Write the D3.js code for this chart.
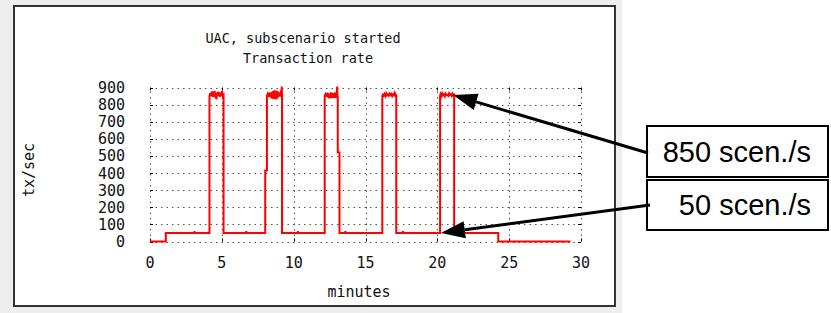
<!DOCTYPE html>
<html>
<head>
    <meta charset='utf-8'>
    <title>Transaction rate</title>
    <script src='https://cdn.jsdelivr.net/npm/d3@7/dist/d3.min.js'></script>
    <style>
        body { margin: 0; background: #fff; }
        .mono { font-family: 'DejaVu Sans Mono', monospace; }
        .note { font-family: 'Liberation Sans', Arial, sans-serif; }
    </style>
</head>
<body>
    <svg width='831' height='313'></svg>
    <script>
        // chart data (minutes, tx/sec)
        const minutes = [
            0, 1.1, 1.1, 3.08, 3.1, 3.12, 4.14, 4.14,
            4.18, 4.22, 4.26, 4.30, 4.34, 4.38, 4.42, 4.46, 4.50, 4.54, 4.58, 4.62, 4.66, 4.70,
            4.74, 4.78, 4.82, 4.86, 4.90, 4.94, 4.98, 5.02, 5.06, 5.12, 5.12,
            6.68, 6.70, 6.72, 8.02, 8.02, 8.14, 8.14,
            8.18, 8.22, 8.26, 8.30, 8.34, 8.38, 8.42, 8.46, 8.50, 8.54, 8.58, 8.62, 8.66, 8.70,
            8.74, 8.78, 8.82, 8.86, 8.90, 8.94, 8.98, 9.02, 9.06, 9.10, 9.14, 9.17, 9.19, 9.19,
            10.28, 10.30, 10.32, 12.16, 12.16,
            12.20, 12.24, 12.28, 12.32, 12.36, 12.40, 12.44, 12.48, 12.52, 12.56, 12.60, 12.64,
            12.68, 12.72, 12.76, 12.80, 12.84, 12.88, 12.92, 12.96, 13.00, 13.03, 13.05, 13.07,
            13.07, 13.19, 13.19,
            13.58, 13.60, 13.62, 16.17, 16.17,
            16.20, 16.26, 16.32, 16.38, 16.44, 16.50, 16.56, 16.62, 16.68, 16.74, 16.80, 16.86,
            16.92, 16.98, 17.04, 17.10, 17.14, 17.14,
            17.58, 17.60, 17.62, 20.19, 20.19,
            20.22, 20.28, 20.34, 20.40, 20.46, 20.52, 20.58, 20.64, 20.70, 20.76, 20.82, 20.88,
            20.94, 21.00, 21.06, 21.12, 21.17, 21.17,
            21.48, 21.50, 21.52, 24.24, 24.24, 29.26
        ]
        const txRate = [
            0, 0, 50, 50, 60, 50, 50, 850,
            865, 848, 872, 855, 878, 845, 868, 852, 880, 840, 862, 830, 870, 850,
            875, 856, 866, 845, 872, 852, 868, 880, 848, 855, 50,
            50, 60, 50, 50, 415, 415, 850,
            860, 845, 868, 850, 872, 842, 866, 838, 875, 835, 880, 832, 884, 838,
            878, 830, 882, 836, 876, 845, 870, 850, 862, 848, 865, 905, 850, 50,
            50, 60, 50, 50, 850,
            858, 845, 865, 850, 870, 842, 860, 836, 866, 840, 872, 838,
            862, 845, 868, 840, 855, 846, 870, 838, 875, 905, 840, 850,
            520, 520, 50,
            50, 60, 50, 50, 850,
            858, 852, 862, 850, 866, 855, 860, 852, 864, 856, 862, 850,
            860, 854, 868, 852, 860, 50,
            50, 60, 50, 50, 850,
            862, 850, 866, 854, 860, 848, 864, 855, 858, 852, 866, 856,
            860, 850, 864, 855, 858, 50,
            50, 60, 50, 50, 0, 0
        ]
        const xTicks = [0, 5, 10, 15, 20, 25, 30]
        const yTicks = [0, 100, 200, 300, 400, 500, 600, 700, 800, 900]

        const notes = [
            { label: '850 scen./s', at: [21.1, 856] },
            { label: '50 scen./s', at: [20.25, 50] }
        ]

        const svg = d3.select('svg')

        // gray window background and the framed white canvas
        svg.append('rect').attr('x', 0).attr('y', 0).attr('width', 622).attr('height', 313).attr('fill', '#eeeeee')
        svg.append('rect').attr('x', 14).attr('y', 6).attr('width', 601).attr('height', 300)
            .attr('fill', '#fff').attr('stroke', '#333').attr('stroke-width', 2)

        const x = d3.scaleLinear().domain([0, 30]).range([150, 581])
        const y = d3.scaleLinear().domain([0, 900]).range([241.5, 87.5])

        // dotted grid, also on the edges
        const grid = svg.append('g').attr('stroke', '#555').attr('stroke-width', 1).attr('stroke-dasharray', '1.5,4')
        grid.selectAll('.gy').data(yTicks).join('line')
            .attr('x1', x(0)).attr('x2', x(30))
            .attr('y1', d => Math.round(y(d)) + 0.5).attr('y2', d => Math.round(y(d)) + 0.5)
        grid.selectAll('.gx').data(xTicks).join('line')
            .attr('y1', y(0)).attr('y2', y(900))
            .attr('x1', d => Math.round(x(d)) + 0.5).attr('x2', d => Math.round(x(d)) + 0.5)

        // small tic marks
        const tics = svg.append('g').attr('stroke', '#000').attr('stroke-width', 1)
        yTicks.forEach(d => {
            const yy = Math.round(y(d)) + 0.5
            tics.append('line').attr('x1', x(0)).attr('x2', x(0) + 3).attr('y1', yy).attr('y2', yy)
            tics.append('line').attr('x1', x(30)).attr('x2', x(30) - 3).attr('y1', yy).attr('y2', yy)
        })
        xTicks.forEach(d => {
            const xx = Math.round(x(d)) + 0.5
            tics.append('line').attr('x1', xx).attr('x2', xx).attr('y1', y(0)).attr('y2', y(0) - 3)
            tics.append('line').attr('x1', xx).attr('x2', xx).attr('y1', y(900)).attr('y2', y(900) + 3)
        })

        // tick labels
        svg.append('g').attr('class', 'mono').selectAll('text').data(yTicks).join('text')
            .attr('x', 125).attr('y', d => y(d) + 5.5)
            .attr('text-anchor', 'end').attr('font-size', 15).attr('fill', '#111')
            .text(d => d)
        svg.append('g').attr('class', 'mono').selectAll('text').data(xTicks).join('text')
            .attr('x', d => x(d)).attr('y', 268)
            .attr('text-anchor', 'middle').attr('font-size', 15).attr('fill', '#111')
            .text(d => d)

        // titles
        const titles = svg.append('g').attr('class', 'mono').attr('fill', '#111')
        titles.append('text').attr('x', 303).attr('y', 43).attr('text-anchor', 'middle')
            .attr('font-size', 13.5).text('UAC, subscenario started')
        titles.append('text').attr('x', 308).attr('y', 63).attr('text-anchor', 'middle')
            .attr('font-size', 13.5).text('Transaction rate')
        titles.append('text').attr('x', 359).attr('y', 297).attr('text-anchor', 'middle')
            .attr('font-size', 15).text('minutes')
        titles.append('text').attr('transform', 'translate(34,170) rotate(-90)').attr('text-anchor', 'middle')
            .attr('font-size', 15).text('tx/sec')

        // the rate line
        const points = minutes.map((m, i) => [m, txRate[i]])
        const line = d3.line().x(d => x(d[0])).y(d => y(d[1]))
        svg.append('path').datum(points)
            .attr('d', line)
            .attr('fill', 'none').attr('stroke', '#ff0000').attr('stroke-width', 2)
            .attr('stroke-linejoin', 'miter')

        // annotation boxes and arrows
        const boxes = [
            { x: 647, y: 126, w: 181, h: 51, base: 162 },
            { x: 647, y: 180, w: 181, h: 50, base: 215 }
        ]
        const arrowFrom = [[648, 153], [650, 205]]

        notes.forEach((n, i) => {
            const b = boxes[i]
            svg.append('rect').attr('x', b.x).attr('y', b.y).attr('width', b.w).attr('height', b.h)
                .attr('fill', '#fff').attr('stroke', '#000').attr('stroke-width', 2)
            svg.append('text').attr('class', 'note').attr('x', 811).attr('y', b.base).attr('text-anchor', 'end')
                .attr('font-size', 29).attr('fill', '#000').text(n.label)

            const tip = [x(n.at[0]), y(n.at[1])]
            const from = arrowFrom[i]
            const ang = Math.atan2(tip[1] - from[1], tip[0] - from[0])
            const len = 24, half = 8.5
            const bx = tip[0] - len * Math.cos(ang), by = tip[1] - len * Math.sin(ang)
            svg.append('line').attr('x1', from[0]).attr('y1', from[1]).attr('x2', bx).attr('y2', by)
                .attr('stroke', '#000').attr('stroke-width', 3)
            svg.append('path')
                .attr('d', `M${tip[0]},${tip[1]}L${bx - half * Math.sin(ang)},${by + half * Math.cos(ang)}L${bx + half * Math.sin(ang)},${by - half * Math.cos(ang)}Z`)
                .attr('fill', '#000')
        })
    </script>
</body>
</html>
